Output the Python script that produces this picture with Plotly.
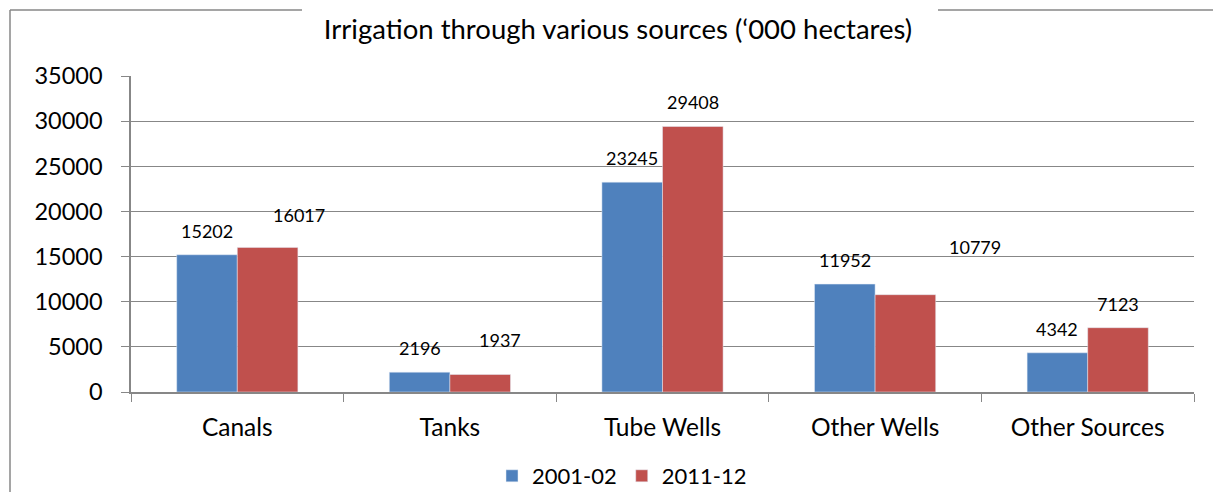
import plotly.graph_objects as go

# irrigated area by source, '000 hectares
sources = ["Canals", "Tanks", "Tube Wells", "Other Wells", "Other Sources"]
area_2001 = [15202, 2196, 23245, 11952, 4342]
area_2011 = [16017, 1937, 29408, 10779, 7123]
y_ticks = [0, 5000, 10000, 15000, 20000, 25000, 30000, 35000]

BLUE = "#4F81BD"
RED = "#C0504D"
GREY = "#878787"
FONT = "Lato"

W, H = 1213, 492
L, R, T, B = 131, 19, 76, 100
plot_w, plot_h = W - L - R, H - T - B


def px_x(p):
    return (p - L) / plot_w


def px_y(p):
    return (H - B - p) / plot_h


fig = go.Figure()
fig.add_trace(go.Bar(x=sources, y=area_2001, name="2001-02", marker_color=BLUE))
fig.add_trace(go.Bar(x=sources, y=area_2011, name="2011-12", marker_color=RED))

# data labels, a few were dragged around by hand in the original
bargap = 0.43
half_bar = plot_w / len(sources) * (1 - bargap) / 4
nudge_2011 = {0: (31, 8), 1: (20, 11), 3: (70, 24)}
for i, s in enumerate(sources):
    fig.add_annotation(x=s, y=area_2001[i], text=str(area_2001[i]), showarrow=False,
                       xshift=-half_bar, yshift=24, yanchor="middle",
                       font=dict(size=18, color="black", family=FONT))
    dx, dy = nudge_2011.get(i, (0, 0))
    fig.add_annotation(x=s, y=area_2011[i], text=str(area_2011[i]), showarrow=False,
                       xshift=half_bar + dx, yshift=24 + dy, yanchor="middle",
                       font=dict(size=18, color="black", family=FONT))

# outer chart border (title box cuts the top edge)
border = dict(type="line", xref="paper", yref="paper", line=dict(color=GREY, width=1.5))
fig.add_shape(x0=px_x(10), x1=px_x(10), y0=px_y(10), y1=px_y(500), **border)
fig.add_shape(x0=px_x(10), x1=px_x(302), y0=px_y(10), y1=px_y(10), **border)
fig.add_shape(x0=px_x(938), x1=px_x(1220), y0=px_y(10), y1=px_y(10), **border)

fig.update_layout(
    width=W, height=H,
    margin=dict(l=L, r=R, t=T, b=B),
    paper_bgcolor="white", plot_bgcolor="white",
    font=dict(family=FONT, size=24.5, color="black"),
    barmode="group", bargap=bargap, bargroupgap=0,
    title=dict(text="Irrigation through various sources (‘000 hectares)",
               x=px_x(618), xref="paper", xanchor="center",
               y=1 - 29 / H, yref="container", yanchor="middle",
               font=dict(size=27.5, family=FONT, color="black")),
    legend=dict(orientation="h", x=px_x(622), xanchor="center",
                y=1 - 476 / H, yref="container", yanchor="middle", font=dict(size=22),
                itemwidth=30, tracegroupgap=0),
)
fig.update_yaxes(range=[0, 35000], tickvals=y_ticks, tickformat="d", showgrid=True,
                 gridcolor=GREY, gridwidth=1, automargin=False, tickfont=dict(size=23.5),
                 showline=True, linecolor=GREY, linewidth=1.5, ticks="outside", ticklen=8,
                 tickcolor=GREY, ticklabelstandoff=14, zeroline=False)
fig.update_xaxes(showline=True, linecolor=GREY, linewidth=1.5, ticks="outside", ticklen=8,
                 tickcolor=GREY, tickson="boundaries", ticklabelstandoff=13, automargin=False)

fig.write_html("out.html", config={"displayModeBar": False},
               post_script="document.body.style.margin = '0';")
